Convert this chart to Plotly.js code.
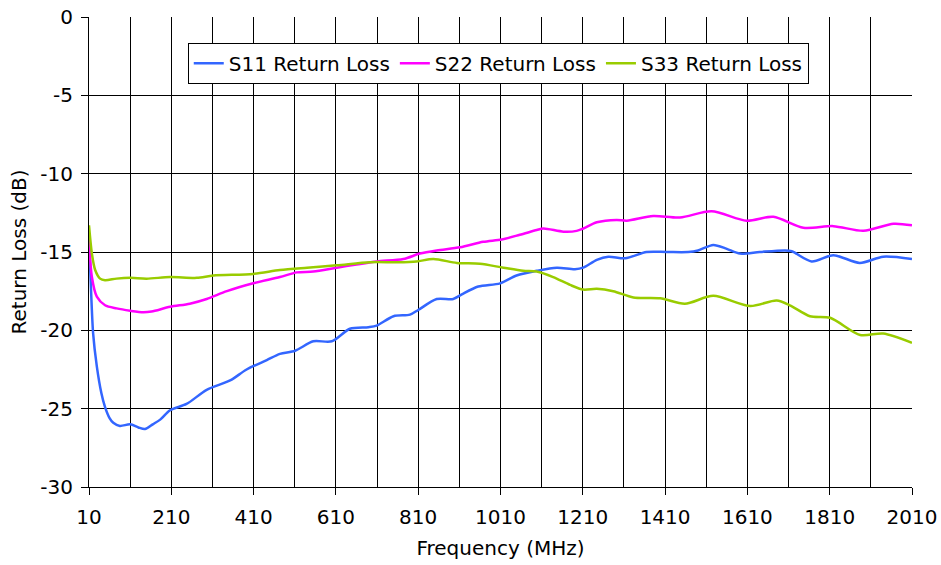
<!DOCTYPE html>
<html>
<head>
<meta charset="utf-8">
<script src="https://cdn.plot.ly/plotly-3.0.1.min.js"></script>
<style>html,body{margin:0;padding:0;background:#fff;}#chart{width:941px;height:565px;}</style>
</head>
<body>
<div id="chart"></div>
<script>
const seriesNames = ["S11 Return Loss", "S22 Return Loss", "S33 Return Loss"];
const seriesColors = ["#3366FF", "#FF00FF", "#99CC00"];

const s11Freq = [10, 12, 20, 29, 40, 49, 60, 69, 85, 110, 130, 146, 165, 183, 207, 247, 296, 353, 393, 442, 474, 511, 555, 600, 644, 689, 709, 750, 790, 810, 855, 895, 916, 956, 1009, 1049, 1098, 1147, 1191, 1211, 1244, 1272, 1313, 1365, 1414, 1466, 1490, 1527, 1560, 1592, 1640, 1701, 1718, 1766, 1819, 1883, 1940, 2010];
const s11Loss = [-14.6, -15.5, -20.2, -22.3, -24.0, -24.9, -25.6, -25.9, -26.1, -26.0, -26.2, -26.3, -26.0, -25.7, -25.1, -24.7, -23.8, -23.2, -22.5, -21.9, -21.5, -21.3, -20.7, -20.7, -19.9, -19.8, -19.7, -19.1, -19.0, -18.7, -18.0, -18.0, -17.7, -17.2, -17.0, -16.5, -16.2, -16.0, -16.1, -16.0, -15.5, -15.3, -15.4, -15.0, -15.0, -15.0, -14.9, -14.55, -14.8, -15.1, -15.0, -14.9, -14.95, -15.6, -15.2, -15.7, -15.3, -15.45];

const s22Freq = [10, 17, 29, 49, 77, 110, 142, 162, 207, 255, 296, 345, 409, 474, 515, 555, 612, 660, 709, 774, 814, 855, 912, 968, 1013, 1057, 1098, 1114, 1163, 1195, 1211, 1244, 1292, 1317, 1381, 1446, 1523, 1608, 1673, 1746, 1819, 1892, 1965, 2010];
const s22Loss = [-14.0, -16.6, -17.85, -18.4, -18.6, -18.75, -18.85, -18.8, -18.5, -18.3, -18.0, -17.5, -17.0, -16.6, -16.3, -16.25, -16.0, -15.8, -15.6, -15.45, -15.1, -14.9, -14.7, -14.35, -14.2, -13.9, -13.6, -13.5, -13.7, -13.65, -13.5, -13.1, -12.95, -13.0, -12.7, -12.8, -12.4, -13.0, -12.75, -13.45, -13.35, -13.65, -13.2, -13.3];

const s33Freq = [10, 17, 25, 37, 49, 77, 110, 150, 207, 272, 312, 409, 474, 540, 612, 693, 760, 806, 847, 904, 960, 1017, 1065, 1098, 1138, 1179, 1211, 1244, 1284, 1333, 1398, 1458, 1527, 1617, 1681, 1713, 1762, 1811, 1884, 1940, 2010];
const s33Loss = [-13.3, -15.1, -16.15, -16.7, -16.8, -16.7, -16.65, -16.7, -16.6, -16.65, -16.5, -16.4, -16.15, -16.0, -15.85, -15.65, -15.65, -15.6, -15.45, -15.7, -15.75, -16.0, -16.2, -16.25, -16.6, -17.1, -17.4, -17.35, -17.5, -17.9, -17.95, -18.3, -17.8, -18.45, -18.1, -18.4, -19.1, -19.2, -20.3, -20.2, -20.8];

const xTickVals = [10, 210, 410, 610, 810, 1010, 1210, 1410, 1610, 1810, 2010];
const xTickText = ["10", "210", "410", "610", "810", "1010", "1210", "1410", "1610", "1810", "2010"];
const yTickVals = [0, -5, -10, -15, -20, -25, -30];
const yTickText = ["0", "-5", "-10", "-15", "-20", "-25", "-30"];

const xs = [s11Freq, s22Freq, s33Freq];
const ys = [s11Loss, s22Loss, s33Loss];
const traces = seriesNames.map((n, i) => ({
  type: 'scatter', mode: 'lines', name: n, x: xs[i], y: ys[i],
  line: {color: seriesColors[i], width: 2.5, shape: 'spline', smoothing: 0.8}
}));

const fam = 'DejaVu Sans, Verdana, sans-serif';
const layout = {
  width: 941, height: 565,
  margin: {l: 89, r: 29, t: 17, b: 78},
  paper_bgcolor: '#fff', plot_bgcolor: '#fff',
  font: {family: fam, size: 20, color: '#000'},
  showlegend: true,
  legend: {
    orientation: 'h', x: 0.12, y: 0.945, xanchor: 'left', yanchor: 'top',
    bordercolor: '#000', borderwidth: 1, bgcolor: '#fff',
    font: {family: fam, size: 20, color: '#000'},
    itemwidth: 30, tracegroupgap: 0
  },
  xaxis: {
    range: [10, 2010], tickmode: 'array', tickvals: xTickVals, ticktext: xTickText,
    ticks: 'outside', ticklen: 7, tickcolor: '#000', ticklabelstandoff: 5,
    showgrid: true, gridcolor: '#000', gridwidth: 1,
    minor: {dtick: 100, tick0: 10, showgrid: true, gridcolor: '#000', gridwidth: 1, ticks: ''},
    showline: true, linecolor: '#000', linewidth: 1, mirror: false,
    zeroline: false, tickfont: {size: 20},
    title: {text: 'Frequency (MHz)', font: {size: 20}, standoff: 12}
  },
  yaxis: {
    range: [-30, 0], tickmode: 'array', tickvals: yTickVals, ticktext: yTickText,
    ticks: 'outside', ticklen: 7, tickcolor: '#000', ticklabelstandoff: 4,
    showgrid: true, gridcolor: '#000', gridwidth: 1,
    showline: true, linecolor: '#000', linewidth: 1,
    zeroline: false, tickfont: {size: 20},
    title: {text: 'Return Loss (dB)', font: {size: 20}, standoff: 8}
  }
};
Plotly.newPlot('chart', traces, layout, {displayModeBar: false, staticPlot: true});
</script>
</body>
</html>
